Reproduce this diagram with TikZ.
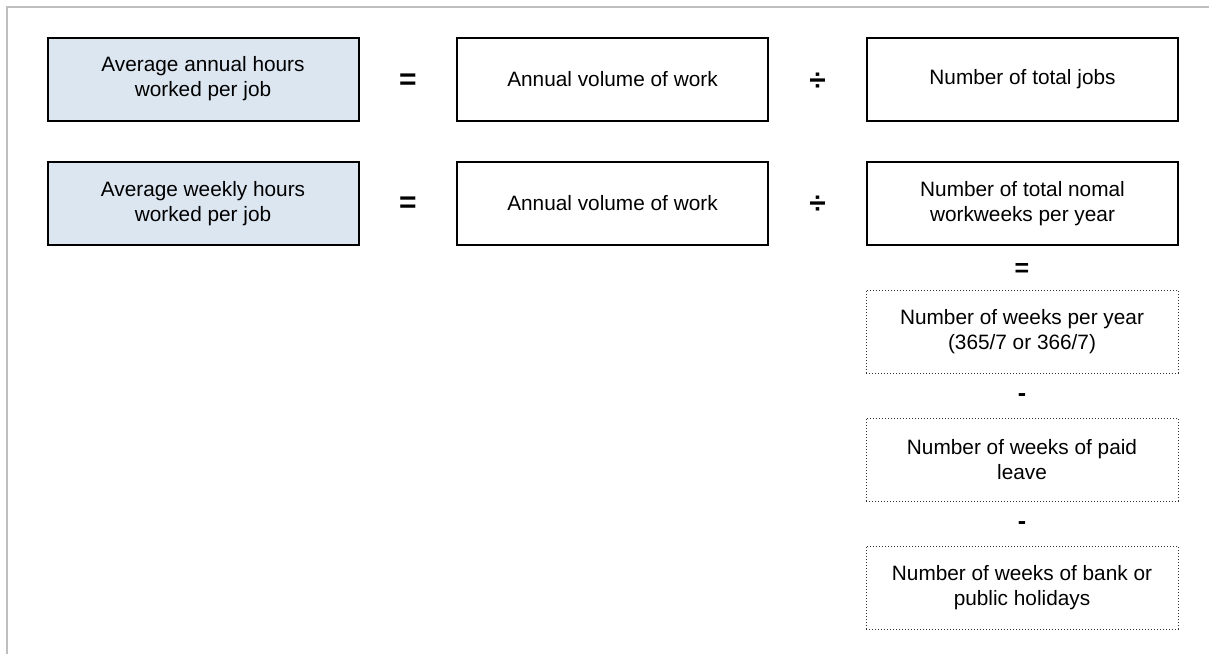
\documentclass[tikz,border=0pt]{standalone}
\usepackage{fontspec}
\setmainfont{Liberation Sans}
\definecolor{boxblue}{HTML}{DCE6F1}
\definecolor{framegray}{HTML}{BFBFBF}
\begin{document}
\begin{tikzpicture}[x=1pt,y=-1pt,
  txt/.style={font=\fontsize{20.8}{25}\selectfont, align=center, inner sep=0pt},
  solidbox/.style={txt, draw=black, line width=2pt, minimum width=311pt},
  bluebox/.style={solidbox, fill=boxblue},
  dotbox/.style={txt, draw=black!80, dotted, line width=1pt, minimum width=312pt, minimum height=83pt},
  op/.style={font=\fontsize{30}{34}\selectfont\bfseries, inner sep=0pt},
  smallop/.style={font=\fontsize{25}{30}\selectfont\bfseries, inner sep=0pt}
]
\useasboundingbox (0,0) rectangle (1209,654);
\draw[framegray, line width=2pt] (7,654) -- (7,7) -- (1209,7);

% row 1
\node[bluebox, minimum height=83pt] (a1) at (203,79) {Average annual hours\\worked per job};
\node[op] (e1) at (408,81.5) {=};
\node[solidbox, minimum height=83pt] (v1) at (612.5,79) {Annual volume of work};
\node[op] (d1) at (817.5,81.5) {÷};
\node[solidbox, minimum height=83pt] (j1) at (1022.5,79) {Number of total jobs};

% row 2
\node[bluebox, minimum height=83pt] (a2) at (203,203.5) {Average weekly hours\\worked per job};
\node[op] (e2) at (408,205) {=};
\node[solidbox, minimum height=83pt] (v2) at (612.5,203.5) {Annual volume of work};
\node[op] (d2) at (817.5,205) {÷};
\node[solidbox, minimum height=83pt] (w2) at (1022.5,203.5) {Number of total nomal\\workweeks per year};

% breakdown
\node[smallop] (e3) at (1022,270) {=};
\node[dotbox] (b1) at (1022,331.5) {Number of weeks per year\\(365/7 or 366/7)};
\node[smallop] (m1) at (1022,398) {-};
\node[dotbox] (b2) at (1022,459.5) {Number of weeks of paid\\leave};
\node[smallop] (m2) at (1022,526) {-};
\node[dotbox] (b3) at (1022,587.5) {Number of weeks of bank or\\public holidays};
\end{tikzpicture}
\end{document}
